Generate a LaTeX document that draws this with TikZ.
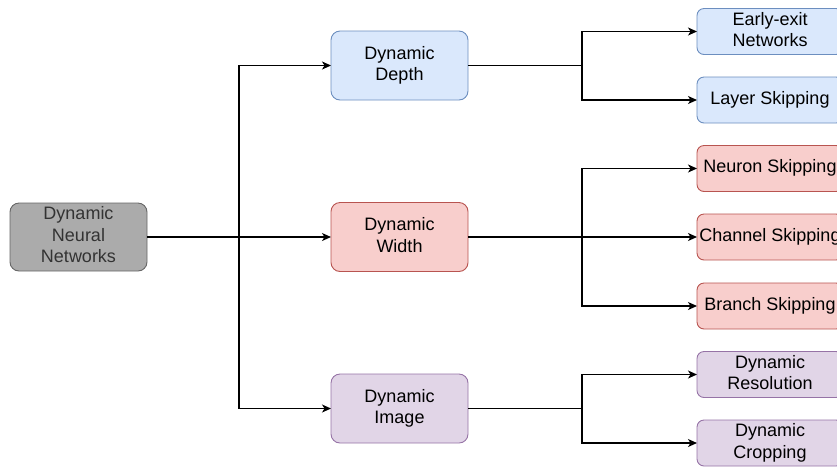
\documentclass[tikz,border=0pt]{standalone}
\usepackage{fontspec}
\setmainfont{Liberation Sans}
\usetikzlibrary{arrows.meta}

\definecolor{rootfill}{HTML}{ABABAB}
\definecolor{rootline}{HTML}{666666}
\definecolor{rootText}{HTML}{333333}
\definecolor{bluefill}{HTML}{DAE8FC}
\definecolor{blueline}{HTML}{6C8EBF}
\definecolor{redfill}{HTML}{F8CECC}
\definecolor{redline}{HTML}{B85450}
\definecolor{purplefill}{HTML}{E1D5E7}
\definecolor{purpleline}{HTML}{9673A6}

% box label: lines 1.2em apart, baseline set a little lower than TeX's default
\newcommand{\boxtext}[1]{\raisebox{-1.9pt}{\begin{tabular}{@{}c@{}}#1\end{tabular}}}

\tikzset{
  box/.style={draw, line width=0.9pt, rounded corners=9pt,
    inner sep=0pt, outer sep=0pt, font=\fontsize{18}{21.6}\selectfont},
  bigbox/.style={box, minimum width=137pt, minimum height=69pt},
  leafbox/.style={box, rounded corners=7pt, minimum width=146pt, minimum height=46pt},
  grayc/.style={fill=rootfill, draw=rootline, text=rootText},
  bluec/.style={fill=bluefill, draw=blueline},
  redc/.style={fill=redfill, draw=redline},
  purplec/.style={fill=purplefill, draw=purpleline},
  conn/.style={line width=1.3pt, -{Stealth[length=9pt,width=8pt,inset=2.5pt]}}
}

\begin{document}
\begin{tikzpicture}[x=1pt, y=-1pt]
\useasboundingbox (0,0) rectangle (837,467);

% root and first level
\node[bigbox, grayc, minimum height=68pt] (root) at (78.5,237) {\boxtext{Dynamic\\Neural\\Networks}};
\node[bigbox, bluec]   (depth) at (399.5,65.5)  {\boxtext{Dynamic\\Depth}};
\node[bigbox, redc]    (width) at (399.5,237)   {\boxtext{Dynamic\\Width}};
\node[bigbox, purplec] (image) at (399.5,408.5) {\boxtext{Dynamic\\Image}};

% leaves
\node[leafbox, bluec]   (early)   at (770,31.5)  {\boxtext{Early-exit\\Networks}};
\node[leafbox, bluec]   (layer)   at (770,100)   {\boxtext{Layer Skipping}};
\node[leafbox, redc]    (neuron)  at (770,168.5) {\boxtext{Neuron Skipping}};
\node[leafbox, redc]    (channel) at (770,237)   {\boxtext{Channel Skipping}};
\node[leafbox, redc]    (branch)  at (770,306)   {\boxtext{Branch Skipping}};
\node[leafbox, purplec] (resol)   at (770,374.5) {\boxtext{Dynamic\\Resolution}};
\node[leafbox, purplec] (crop)    at (770,443)   {\boxtext{Dynamic\\Cropping}};

% junction points of the elbow connectors
\coordinate (j0) at (239,237);
\coordinate (j1) at (582,65.5);
\coordinate (j2) at (582,237);
\coordinate (j3) at (582,408.5);

\draw[conn] (root.east) -- (j0) |- (depth.west);
\draw[conn] (root.east) -- (j0) |- (width.west);
\draw[conn] (root.east) -- (j0) |- (image.west);

\draw[conn] (depth.east) -- (j1) |- (early.west);
\draw[conn] (depth.east) -- (j1) |- (layer.west);

\draw[conn] (width.east) -- (j2) |- (neuron.west);
\draw[conn] (width.east) -- (j2) |- (channel.west);
\draw[conn] (width.east) -- (j2) |- (branch.west);

\draw[conn] (image.east) -- (j3) |- (resol.west);
\draw[conn] (image.east) -- (j3) |- (crop.west);
\end{tikzpicture}
\end{document}
